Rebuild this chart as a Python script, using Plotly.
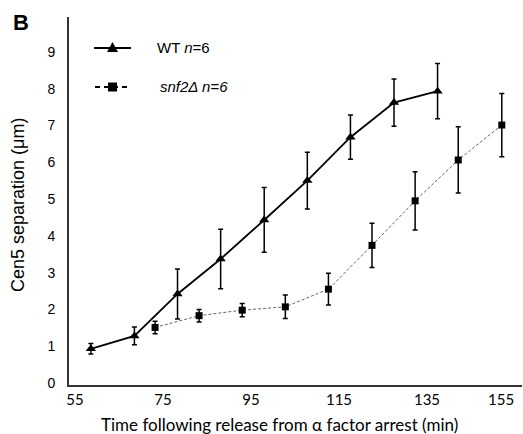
import plotly.graph_objects as go

# ---- data ----
wt_time = [58.6, 68.5, 78.3, 88.1, 98.0, 107.8, 117.6, 127.5, 137.4]
wt_sep = [0.93, 1.28, 2.42, 3.37, 4.43, 5.50, 6.68, 7.62, 7.93]
wt_err = [0.14, 0.24, 0.68, 0.81, 0.88, 0.77, 0.60, 0.64, 0.75]

snf_time = [73.2, 83.2, 93.0, 102.8, 112.6, 122.5, 132.3, 142.1, 152.0]
snf_sep = [1.51, 1.83, 1.98, 2.07, 2.55, 3.74, 4.95, 6.06, 7.01]
snf_err = [0.17, 0.17, 0.18, 0.32, 0.43, 0.60, 0.79, 0.90, 0.86]

x_ticks = [55, 75, 95, 115, 135, 155]
x_tick_labels = ["55", "75", "95", "115", "135", "155"]
y_ticks = [0, 1, 2, 3, 4, 5, 6, 7, 8, 9]

fig = go.Figure()

fig.add_trace(go.Scatter(
    x=snf_time, y=snf_sep, mode="lines+markers",
    line=dict(color="#666666", width=1, dash="3px,2px"),
    marker=dict(symbol="square", size=7, color="black"),
    error_y=dict(type="data", array=snf_err, visible=True,
                 color="black", thickness=1.5, width=2.5),
    showlegend=False, cliponaxis=False,
))
fig.add_trace(go.Scatter(
    x=wt_time, y=wt_sep, mode="lines+markers",
    line=dict(color="black", width=1.8),
    marker=dict(symbol="triangle-up", size=9, color="black"),
    error_y=dict(type="data", array=wt_err, visible=True,
                 color="black", thickness=1.5, width=2.5),
    showlegend=False, cliponaxis=False,
))

PL, PR, PT, PB = 69, 522, 17, 385
W, H = 523, 434


def px(xp):
    return (xp - PL) / (PR - PL)


def py(yp):
    return (PB - yp) / (PB - PT)


shapes = []
# legend samples
shapes.append(dict(type="line", xref="paper", yref="paper",
                   x0=px(94), x1=px(131), y0=py(48), y1=py(48),
                   line=dict(color="black", width=1.8)))
shapes.append(dict(type="line", xref="paper", yref="paper",
                   x0=px(95), x1=px(131), y0=py(87), y1=py(87),
                   line=dict(color="black", width=1.8, dash="5px,4px")))
shapes.append(dict(type="path", xref="paper", yref="paper",
                   xsizemode="pixel", ysizemode="pixel",
                   xanchor=px(112.5), yanchor=py(48),
                   path="M-5.5,-4 L5.5,-4 L0,6 Z",
                   fillcolor="black", line=dict(width=0)))
shapes.append(dict(type="rect", xref="paper", yref="paper",
                   xsizemode="pixel", ysizemode="pixel",
                   xanchor=px(112.5), yanchor=py(87),
                   x0=-4.5, x1=4.5, y0=-4.5, y1=4.5,
                   fillcolor="black", line=dict(width=0)))


def ann(text, x, y, size, family="Liberation Sans, Arial", xanchor="center",
        angle=0):
    return dict(text=text, xref="paper", yref="paper", x=px(x), y=py(y),
                xanchor=xanchor, yanchor="middle", showarrow=False,
                textangle=angle,
                font=dict(family=family, size=size, color="black"))


annotations = [
    ann("<b>B</b>", 21, 23, 22),
    ann("WT <i>n</i>=6", 155, 48, 15, xanchor="left"),
    ann("<i>snf2\u0394 n=6</i>", 158, 87, 15, xanchor="left"),
    ann("Cen5 separation (\u03bcm)", 18, 205, 18, angle=-90),
    ann("Time following release from \u03b1 factor arrest (min)", 279, 424,
        17, family="Lato"),
    # last tick label pulled inside the figure edge, as in the reference
    ann(x_tick_labels[-1], 516, 399, 15, family="Lato", xanchor="right"),
]

x0v = 55 - (75 - PL) / 4.4
x1v = x0v + (PR - PL) / 4.4
y0v = -(PB - 383) / 36.8
y1v = y0v + (PB - PT) / 36.8

fig.update_layout(
    width=W, height=H,
    margin=dict(l=PL, r=W - PR, t=PT, b=H - PB),
    plot_bgcolor="white", paper_bgcolor="white",
    shapes=shapes, annotations=annotations,
    xaxis=dict(range=[x0v, x1v], tickvals=x_ticks, automargin=False,
               ticktext=x_tick_labels[:-1] + [""],
               showgrid=False, zeroline=False, showline=True,
               linecolor="#333333", linewidth=2, ticks="",
               tickfont=dict(family="Lato", size=15, color="black")),
    yaxis=dict(range=[y0v, y1v], tickvals=y_ticks, automargin=False,
               showgrid=False, zeroline=False, showline=True,
               linecolor="#333333", linewidth=2,
               ticks="outside", ticklen=9, tickcolor="rgba(0,0,0,0)",
               tickfont=dict(family="Liberation Sans, Arial", size=14,
                             color="black")),
)

fig.write_html("out.html",
               config={"displayModeBar": False},
               post_script="document.body.style.margin='0';"
                           "document.body.style.overflow='hidden';")
